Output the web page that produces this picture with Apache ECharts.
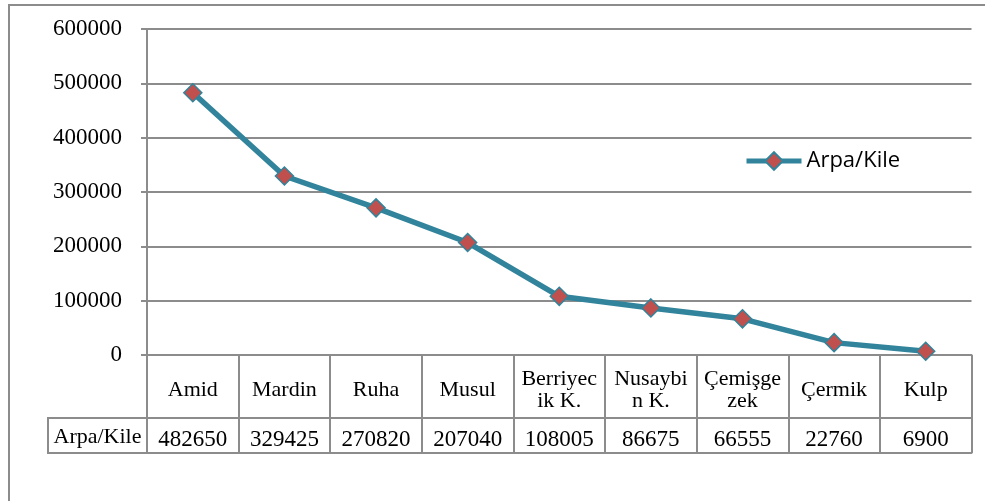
<!DOCTYPE html>
<html>
<head>
<meta charset="utf-8">
<script src="https://cdn.jsdelivr.net/npm/echarts@6/dist/echarts.min.js"></script>
<style>
  html, body { margin: 0; padding: 0; background: #ffffff; }
  #chart { width: 985px; height: 501px; }
</style>
</head>
<body>
<div id="chart"></div>
<script>
// Barley (Arpa) yield per district, in kile
const seriesName = 'Arpa/Kile';
const districts = ['Amid', 'Mardin', 'Ruha', 'Musul', 'Berriyec\nik K.', 'Nusaybi\nn K.', 'Çemişge\nzek', 'Çermik', 'Kulp'];
const arpaKile = [482650, 329425, 270820, 207040, 108005, 86675, 66555, 22760, 6900];
const yTicks = [0, 100000, 200000, 300000, 400000, 500000, 600000];

const lineColor = '#31849B';
const markColor = '#C0504D';
const frameColor = '#8c8c8c';
const serif = '"Liberation Serif", "DejaVu Serif", serif';

const chart = echarts.init(document.getElementById('chart'));

const tableLabel = {
  show: true,
  fontFamily: serif,
  color: '#000',
  verticalAlign: 'middle',
  interval: 0
};

chart.setOption({
  animation: false,
  backgroundColor: '#ffffff',
  grid: { left: 147, right: 13.5, top: 29, bottom: 146, containLabel: false },
  legend: {
    left: 739,
    top: 145,
    itemWidth: 55,
    itemHeight: 22,
    itemGap: 6,
    lineStyle: { width: 5 },
    textStyle: { fontFamily: '"Open Sans", "Noto Sans", sans-serif', fontSize: 22, color: '#000', padding: [0, 0, 0, 0] },
    data: [seriesName]
  },
  xAxis: [
    {
      type: 'category',
      data: districts,
      boundaryGap: true,
      position: 'bottom',
      axisLine: { show: true, lineStyle: { color: frameColor, width: 2 } },
      axisTick: { show: true, length: 98, lineStyle: { color: frameColor, width: 2 } },
      axisLabel: Object.assign({}, tableLabel, { margin: 35, fontSize: 22, lineHeight: 22 }),
      splitLine: { show: false }
    },
    {
      type: 'category',
      data: arpaKile.map(String),
      boundaryGap: true,
      position: 'bottom',
      offset: 63,
      axisLine: { show: true, lineStyle: { color: frameColor, width: 2 } },
      axisTick: { show: false },
      axisLabel: Object.assign({}, tableLabel, { margin: 22, fontSize: 23 }),
      splitLine: { show: false }
    },
    {
      type: 'category',
      data: districts,
      boundaryGap: true,
      position: 'bottom',
      offset: 98,
      axisLine: { show: true, lineStyle: { color: frameColor, width: 2 } },
      axisTick: { show: false },
      axisLabel: { show: false },
      splitLine: { show: false }
    }
  ],
  yAxis: {
    type: 'value',
    min: yTicks[0],
    max: yTicks[yTicks.length - 1],
    interval: yTicks[1] - yTicks[0],
    axisLine: { show: true, lineStyle: { color: frameColor, width: 2 } },
    axisTick: { show: true, length: 6, lineStyle: { color: frameColor, width: 2 } },
    axisLabel: { fontFamily: serif, fontSize: 23, color: '#000', margin: 25, formatter: v => String(v) },
    splitLine: { show: true, lineStyle: { color: frameColor, width: 2 } }
  },
  series: [{
    name: seriesName,
    type: 'line',
    data: arpaKile,
    xAxisIndex: 0,
    symbol: 'diamond',
    symbolSize: 18,
    lineStyle: { color: lineColor, width: 5.5 },
    itemStyle: { color: markColor, borderColor: lineColor, borderWidth: 1.5 },
    z: 5
  }],
  graphic: [
    // outer chart frame
    {
      type: 'rect',
      shape: { x: 9, y: 5, width: 990, height: 510 },
      style: { fill: 'none', stroke: frameColor, lineWidth: 2 },
      silent: true, z: -1
    },
    // row header cell of the data table
    {
      type: 'rect',
      shape: { x: 48, y: 418, width: 99, height: 35 },
      style: { fill: 'none', stroke: frameColor, lineWidth: 2 },
      silent: true
    },
    {
      type: 'text',
      x: 97.5, y: 437,
      style: {
        text: seriesName,
        fontFamily: serif, fontSize: 22, fill: '#000',
        align: 'center', verticalAlign: 'middle'
      },
      silent: true
    }
  ]
});
</script>
</body>
</html>
